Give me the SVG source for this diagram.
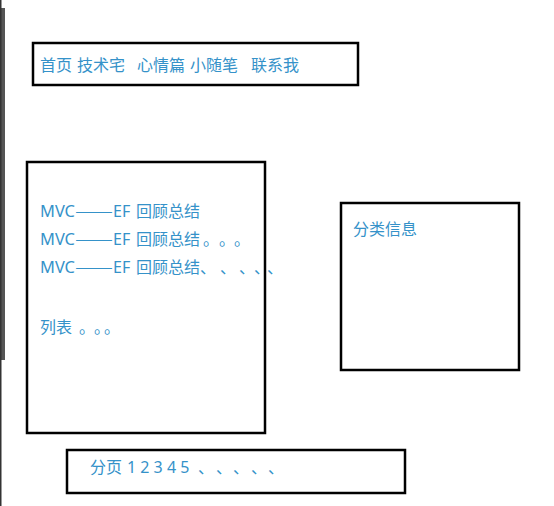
<svg xmlns="http://www.w3.org/2000/svg" width="554" height="506" viewBox="0 0 554 506">
<style>
.box{fill:#fff;stroke:#000;stroke-width:2.5}
.t{fill:#3592c9;font-family:"Noto Sans","Noto Sans CJK SC",sans-serif;font-size:16px;text-spacing-trim:space-all}
.c{font-family:"Noto Sans CJK SC",sans-serif}
</style>
<rect x="0" y="0" width="554" height="506" fill="#fff"/>
<g id="sidebar">
<rect x="0" y="8" width="5" height="352" fill="#555"/>
<rect x="0" y="0" width="1.5" height="506" fill="#333"/>
</g>
<g id="nav">
<rect class="box" x="33" y="43" width="325" height="42"/>
<text class="t" y="71"><tspan x="40">首页</tspan><tspan x="77">技术宅</tspan><tspan x="137">心情篇</tspan><tspan x="190">小随笔</tspan><tspan x="251">联系我</tspan></text>
</g>
<g id="list">
<rect class="box" x="27" y="162" width="238" height="271"/>
<text class="t" y="217"><tspan x="40" textLength="35" lengthAdjust="spacingAndGlyphs">MVC</tspan><tspan x="75" class="c" textLength="38" lengthAdjust="spacingAndGlyphs">——</tspan><tspan x="113">EF</tspan><tspan x="136" class="c">回顾总结</tspan></text>
<text class="t" y="245"><tspan x="40" textLength="35" lengthAdjust="spacingAndGlyphs">MVC</tspan><tspan x="75" class="c" textLength="38" lengthAdjust="spacingAndGlyphs">——</tspan><tspan x="113">EF</tspan><tspan x="136" class="c">回顾总结</tspan><tspan class="c" x="203 219 234">。。。</tspan></text>
<text class="t" y="273"><tspan x="40" textLength="35" lengthAdjust="spacingAndGlyphs">MVC</tspan><tspan x="75" class="c" textLength="38" lengthAdjust="spacingAndGlyphs">——</tspan><tspan x="113">EF</tspan><tspan x="136" class="c">回顾总结</tspan><tspan class="c" x="200 220 239 254 267">、、、、、</tspan></text>
<text class="t c" y="333"><tspan x="40">列表</tspan><tspan x="79 94 104">。。。</tspan></text>
</g>
<g id="category">
<rect class="box" x="341" y="203" width="178" height="167"/>
<text class="t c" x="353" y="235">分类信息</text>
</g>
<g id="pager">
<rect class="box" x="67" y="450" width="338" height="43"/>
<text class="t" y="473"><tspan x="90" class="c">分页</tspan><tspan x="127">1 2 3 4 5</tspan><tspan class="c" x="198 216 233 251 268">、、、、、</tspan></text>
</g>
<g id="connectors"/>
</svg>
